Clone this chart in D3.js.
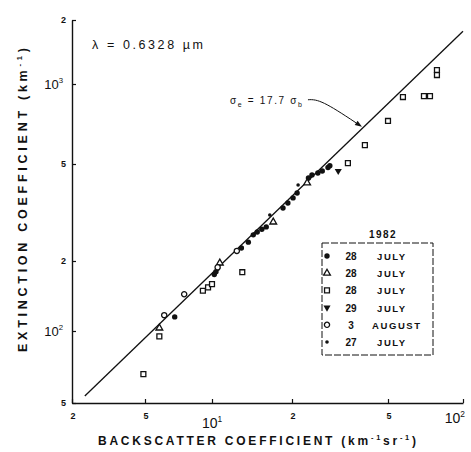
<!DOCTYPE html>
<html>
<head>
<meta charset="utf-8">
<script src="https://cdn.jsdelivr.net/npm/d3@7"></script>
<style>
  html, body { margin: 0; padding: 0; background: #fff; }
  svg { display: block; }
  text { font-family: "Liberation Sans", Arial, sans-serif; fill: #111; }
</style>
</head>
<body>
<svg id="chart" width="471" height="452"></svg>
<script>
// Extinction vs. backscatter coefficient at 0.6328 µm, log–log axes

// Axis ticks and their labels ("^" marks a power of ten)
const xTickValues = [2, 5, 10, 20, 50, 100];
const xTickLabels = ["2", "5", "10^1", "2", "5", "10^2"];
const yTickValues = [50, 100, 200, 500, 1000, 2000];
const yTickLabels = ["5", "10^2", "2", "5", "10^3", "2"];

const xTitle = ["BACKSCATTER COEFFICIENT (km", "-1", "sr", "-1", ")"];
const yTitle = ["EXTINCTION COEFFICIENT (km", "-1", ")"];
const wavelengthLabel = "λ = 0.6328 µm";

// Legend
const legendYear = "1982";
const seriesDays = ["28", "28", "28", "29", "3", "27"];
const seriesMonths = ["JULY", "JULY", "JULY", "JULY", "AUGUST", "JULY"];
const seriesSymbols = ["dot", "triangle", "square", "triangleDown", "circle", "smallDot"];

// Observations: [backscatter (km^-1 sr^-1), extinction (km^-1)]
const jul28Dots = [
  [6.8, 115], [10.2, 175], [10.35, 180], [10.5, 186], [12.9, 226], [13.7, 239],
  [14.3, 256], [14.8, 263], [15.4, 270], [16.0, 276], [18.5, 330], [19.3, 346],
  [20.2, 363], [21.0, 380], [23.4, 438], [24.2, 451], [25.6, 459], [26.7, 468],
  [28.2, 484], [28.7, 492]
];
const jul28Triangles = [[5.8, 103], [10.7, 196], [17.0, 289], [23.1, 418]];
const jul28Squares = [
  [4.9, 66], [5.8, 95], [9.1, 149], [9.6, 154], [10.0, 159], [13.0, 179],
  [34.1, 504], [40.1, 589], [50, 726], [57.4, 893], [69.7, 900], [73.7, 900],
  [78.6, 1102], [78.6, 1164]
];
const jul29Triangles = [[31.1, 468]];
const aug3Circles = [[6.1, 117], [7.5, 144], [10.5, 188], [12.4, 220]];
const jul27Dots = [[16.5, 309], [21.2, 410]];

const seriesData = [jul28Dots, jul28Triangles, jul28Squares, jul29Triangles, aug3Circles, jul27Dots];

// Fitted relation: extinction = 17.7 × backscatter, anchored at two backscatter values
const fitRatio = 17.7;
const fitAnchors = [10, 100];
const fitLabel = ["σ", "e", " = 17.7 σ", "b"];
const fitPointer = 39;

const svg = d3.select("#chart");
const ink = "#111";

// Piecewise log scales following the drafted decade layout
const x = d3.scaleLog().domain(xTickValues).range([72, 145, 212, 292, 388, 463]);
const y = d3.scaleLog().domain(yTickValues).range([403, 331, 261, 164, 84, 20]);

// Axes (ticks point inward)
const xAxis = svg.append("g").attr("transform", `translate(0,${y(50)})`)
  .call(d3.axisBottom(x).tickValues(xTickValues).tickSize(-4).tickSizeOuter(0).tickFormat(""));
const yAxis = svg.append("g").attr("transform", `translate(${x(2)},0)`)
  .call(d3.axisLeft(y).tickValues(yTickValues).tickSize(-4).tickSizeOuter(0).tickFormat(""));
[xAxis, yAxis].forEach(g => {
  g.select(".domain").attr("stroke", ink).attr("stroke-width", 1.4);
  g.selectAll(".tick line").attr("stroke", ink).attr("stroke-width", 1.2);
});

function powerLabel(sel, label, bigSize, smallSize) {
  const parts = label.split("^");
  if (parts.length === 1) {
    sel.attr("font-size", smallSize).attr("font-weight", "bold").text(parts[0]);
  } else {
    sel.attr("font-size", bigSize);
    sel.append("tspan").text(parts[0]);
    sel.append("tspan").attr("font-size", bigSize * 0.6).attr("dy", -bigSize * 0.45).text(parts[1]);
  }
}

// X tick labels
xTickValues.forEach((v, i) => {
  const isPow = xTickLabels[i].includes("^");
  const last = i === xTickValues.length - 1;
  const t = svg.append("text")
    .attr("x", last ? x(v) + 2 : x(v) + (isPow ? 0 : 1))
    .attr("y", isPow ? (last ? 423 : 428) : 419)
    .attr("text-anchor", last ? "end" : "middle");
  powerLabel(t, xTickLabels[i], 14, 9);
});

// Y tick labels
yTickValues.forEach((v, i) => {
  const isPow = yTickLabels[i].includes("^");
  const t = svg.append("text")
    .attr("x", isPow ? 63 : 66)
    .attr("y", y(v) + (isPow ? 5 : 3))
    .attr("text-anchor", "end");
  powerLabel(t, yTickLabels[i], 13, 9);
});

// Axis titles with superscripts
function titleText(sel, parts, size) {
  parts.forEach((p, i) => {
    const sup = i % 2 === 1;
    sel.append("tspan")
      .attr("font-size", sup ? size * 0.62 : size)
      .attr("dy", i === 0 ? 0 : (sup ? -size * 0.42 : size * 0.42))
      .text(p);
  });
}
const xt = svg.append("text").attr("x", 98).attr("y", 445).attr("font-weight", "bold")
  .attr("textLength", 318).attr("lengthAdjust", "spacing");
titleText(xt, xTitle, 12);

const yt = svg.append("text").attr("font-weight", "bold")
  .attr("transform", "translate(27,352) rotate(-90)")
  .attr("textLength", 304).attr("lengthAdjust", "spacing");
titleText(yt, yTitle, 12.5);

svg.append("text").attr("x", 92).attr("y", 49).attr("font-size", 12.5)
  .attr("textLength", 111).attr("lengthAdjust", "spacing")
  .text(wavelengthLabel);

// Fitted line: straight through the two anchors, extended down to the x axis
{
  const a = [x(fitAnchors[0]), y(fitAnchors[0] * fitRatio)];
  const b = [x(fitAnchors[1]), y(fitAnchors[1] * fitRatio)];
  const yEnd = y(50) - 7;
  const t = (yEnd - a[1]) / (b[1] - a[1]);
  const start = [a[0] + t * (b[0] - a[0]), yEnd];
  svg.append("path").attr("d", d3.line()([start, b]))
    .attr("fill", "none").attr("stroke", ink).attr("stroke-width", 1.3);
}

// Fit annotation with leader pointing to the line
const tip = [x(fitPointer), y(fitPointer * fitRatio)];
const ann = svg.append("text").attr("x", tip[0] - 132).attr("y", tip[1] - 23)
  .attr("font-size", 10).attr("textLength", 72).attr("lengthAdjust", "spacing");
fitLabel.forEach((p, i) => {
  const sub = i % 2 === 1;
  ann.append("tspan").attr("font-size", sub ? 7 : 10)
    .attr("dy", i === 0 ? 0 : (sub ? 3 : -3)).text(p);
});
const lead = d3.path();
lead.moveTo(tip[0] - 54, tip[1] - 27);
lead.bezierCurveTo(tip[0] - 44, tip[1] - 28, tip[0] - 36, tip[1] - 24, tip[0] - 6, tip[1] - 4);
svg.append("path").attr("d", lead.toString())
  .attr("fill", "none").attr("stroke", ink).attr("stroke-width", 1);
{
  const ang = Math.atan2(4, 6);
  const len = 7, half = 2.6;
  const bx = tip[0] - len * Math.cos(ang), by = tip[1] - len * Math.sin(ang);
  const nx = -Math.sin(ang) * half, ny = Math.cos(ang) * half;
  svg.append("path")
    .attr("d", `M${tip[0]},${tip[1]}L${bx + nx},${by + ny}L${bx - nx},${by - ny}Z`)
    .attr("fill", ink);
}

// Symbols
function drawSymbol(g, kind) {
  switch (kind) {
    case "dot":
      return g.append("circle").attr("r", 2.7).attr("fill", ink);
    case "smallDot":
      return g.append("circle").attr("r", 1.8).attr("fill", ink);
    case "circle":
      return g.append("circle").attr("r", 2.6).attr("fill", "#fff")
        .attr("stroke", ink).attr("stroke-width", 1.3);
    case "square":
      return g.append("path").attr("d", d3.symbol(d3.symbolSquare, 24)())
        .attr("fill", "#fff").attr("stroke", ink).attr("stroke-width", 1.3);
    case "triangle":
      return g.append("path").attr("d", d3.symbol(d3.symbolTriangle, 20)())
        .attr("fill", "#fff").attr("stroke", ink).attr("stroke-width", 1.3);
    case "triangleDown":
      return g.append("path").attr("d", d3.symbol(d3.symbolTriangle, 22)())
        .attr("transform", "rotate(180)").attr("fill", ink);
  }
}

seriesData.forEach((pts, si) => {
  pts.forEach(p => {
    const g = svg.append("g").attr("transform", `translate(${x(p[0])},${y(p[1])})`);
    drawSymbol(g, seriesSymbols[si]);
  });
});

// Legend
const lg = svg.append("g");
lg.append("rect").attr("x", 322).attr("y", 243).attr("width", 111).attr("height", 112)
  .attr("fill", "none").attr("stroke", ink).attr("stroke-width", 1)
  .attr("stroke-dasharray", "7,2");
lg.append("text").attr("x", 383).attr("y", 238).attr("text-anchor", "middle")
  .attr("font-size", 10).attr("font-weight", "bold").attr("letter-spacing", 1.5)
  .text(legendYear);
seriesDays.forEach((d, i) => {
  const ry = 256 + i * 17.2;
  const g = lg.append("g").attr("transform", `translate(327,${ry})`);
  drawSymbol(g, seriesSymbols[i]);
  lg.append("text").attr("x", 351).attr("y", ry + 4).attr("text-anchor", "middle")
    .attr("font-size", 10).attr("font-weight", "bold").text(d);
  lg.append("text").attr("x", seriesMonths[i] === "AUGUST" ? 372 : 377).attr("y", ry + 4)
    .attr("font-size", 9.5).attr("font-weight", "bold").attr("letter-spacing", 1.6)
    .text(seriesMonths[i]);
});
</script>
</body>
</html>
